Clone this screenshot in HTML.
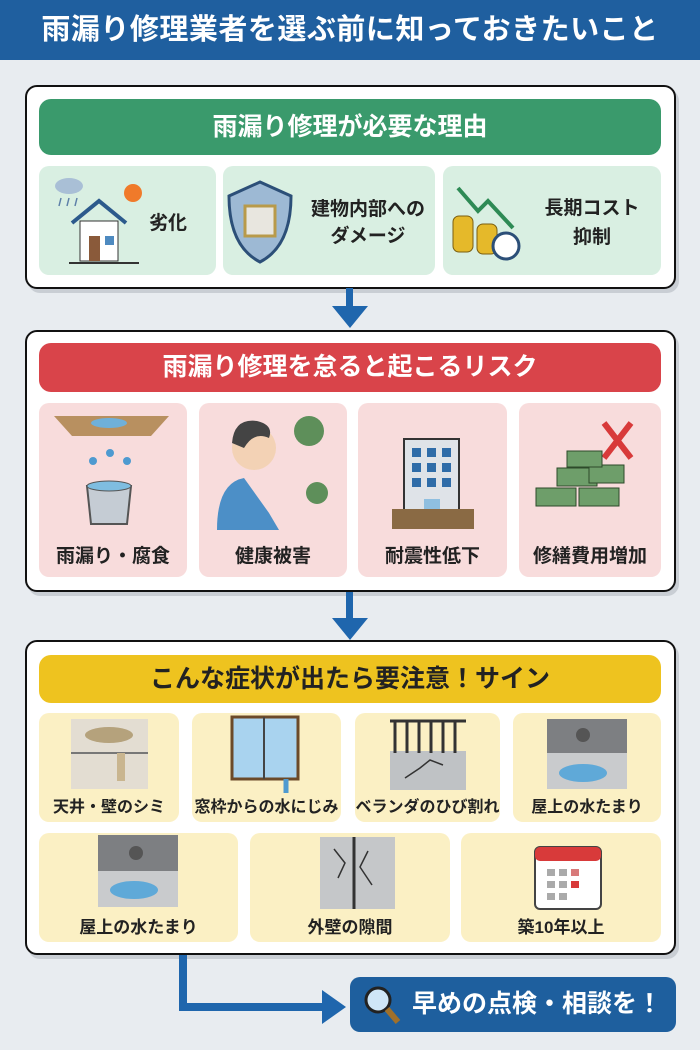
<!DOCTYPE html>
<html><head><meta charset="utf-8"><style>
*{margin:0;padding:0;box-sizing:border-box}
body{width:700px;height:1050px;background:#e8ecf0;position:relative;overflow:hidden;font-family:"Liberation Sans","Noto Sans CJK JP",sans-serif;font-weight:bold}
.a{position:absolute}
.hdr{left:0;top:0;width:700px;height:60px;background:#1f5f9f;color:#fff;font-size:29px;text-align:center;line-height:60px;letter-spacing:0.5px}
.box{background:#fff;border:2.5px solid #111;border-radius:12px;box-shadow:3px 4px 0 #c9ced4}
.bar{border-radius:12px;text-align:center;font-size:25px}
.card{border-radius:10px}
.lbl{position:absolute;left:0;right:0;text-align:center;color:#222}
svg{position:absolute}
</style></head><body>
<div class="a hdr">雨漏り修理業者を選ぶ前に知っておきたいこと</div>

<!-- box1 -->
<div class="a box" style="left:25px;top:85px;width:651px;height:204px"></div>
<div class="a bar" style="left:39px;top:99px;width:622px;height:56px;background:#3a9a6c;color:#fff;line-height:56px">雨漏り修理が必要な理由</div>
<div class="a card" style="left:39px;top:166px;width:177px;height:109px;background:#d9efe2">
 <svg width="110" height="109" viewBox="0 0 110 109"><ellipse cx="30" cy="20" rx="14" ry="8" fill="#a9bfd6"/><g stroke="#5d7fa8" stroke-width="1.5"><line x1="22" y1="32" x2="20" y2="40"/><line x1="30" y1="32" x2="28" y2="40"/><line x1="38" y1="32" x2="36" y2="40"/></g><circle cx="94" cy="27" r="9" fill="#f07a2a"/><path d="M33 57L60 35L87 57" fill="none" stroke="#2c5a8c" stroke-width="4"/><rect x="41" y="55" width="38" height="40" fill="#fff" stroke="#333"/><rect x="50" y="70" width="11" height="25" fill="#8a5a3a"/><rect x="66" y="70" width="9" height="9" fill="#4e8ac0"/><line x1="30" y1="97" x2="100" y2="97" stroke="#333" stroke-width="2"/></svg>
 <div class="lbl" style="left:110px;right:auto;top:42px;font-size:19px">劣化</div></div>
<div class="a card" style="left:223px;top:166px;width:212px;height:109px;background:#d9efe2">
 <svg width="75" height="109" viewBox="0 0 75 109"><path d="M37 16L68 30Q68 80 37 96Q6 80 6 30Z" fill="#9db9d4" stroke="#2c4f78" stroke-width="3"/><rect x="22" y="40" width="30" height="30" fill="#e8e6df" stroke="#b89a4a" stroke-width="3"/></svg>
 <div class="lbl" style="left:78px;right:0;top:30px;font-size:19px;line-height:27px">建物内部への<br>ダメージ</div></div>
<div class="a card" style="left:443px;top:166px;width:218px;height:109px;background:#d9efe2">
 <svg width="85" height="109" viewBox="0 0 85 109"><path d="M15 22L35 45L45 35L70 62" fill="none" stroke="#2e8a55" stroke-width="4"/><g fill="#e5b92a" stroke="#7a5e10"><rect x="10" y="50" width="20" height="36" rx="6"/><rect x="34" y="58" width="20" height="30" rx="6"/></g><circle cx="63" cy="80" r="13" fill="#fff" stroke="#2c4f78" stroke-width="3"/></svg>
 <div class="lbl" style="left:80px;right:0;top:28px;font-size:19px;line-height:29px">長期コスト<br>抑制</div></div>

<!-- arrow1 -->
<div class="a" style="left:346px;top:288px;width:7px;height:22px;background:#1f66ad"></div>
<svg style="left:332px;top:306px" width="36" height="22"><polygon points="0,0 36,0 18,22" fill="#1f66ad"/></svg>

<!-- box2 -->
<div class="a box" style="left:25px;top:330px;width:651px;height:262px"></div>
<div class="a bar" style="left:39px;top:343px;width:622px;height:49px;background:#d9444a;color:#fff;line-height:49px">雨漏り修理を怠ると起こるリスク</div>
<div class="a card" style="left:39px;top:403px;width:148px;height:174px;background:#f8dcdc">
 <svg width="148" height="130" viewBox="0 0 148 130"><polygon points="15,13 130,13 112,33 33,33" fill="#b89060"/><ellipse cx="70" cy="20" rx="18" ry="5" fill="#6fb0da"/><g fill="#4e9ad0"><circle cx="54" cy="58" r="4"/><circle cx="71" cy="50" r="4"/><circle cx="88" cy="58" r="4"/></g><path d="M48 83L52 121H88L92 83Z" fill="#c5ccd4" stroke="#555" stroke-width="2"/><ellipse cx="70" cy="83" rx="22" ry="5" fill="#7fbde0" stroke="#555"/></svg>
 <div class="lbl" style="top:138px;font-size:19px">雨漏り・腐食</div></div>
<div class="a card" style="left:199px;top:403px;width:148px;height:174px;background:#f8dcdc">
 <svg width="148" height="130" viewBox="0 0 148 130"><circle cx="55" cy="45" r="22" fill="#f3d2b5"/><path d="M33 40Q35 15 58 18Q75 22 70 35Q55 28 45 45Z" fill="#444"/><path d="M18 127Q18 80 45 75L70 110L80 127Z" fill="#4c8fc7"/><circle cx="110" cy="28" r="15" fill="#5e8f5a"/><circle cx="118" cy="90" r="11" fill="#5e8f5a"/></svg>
 <div class="lbl" style="top:138px;font-size:19px">健康被害</div></div>
<div class="a card" style="left:358px;top:403px;width:149px;height:174px;background:#f8dcdc">
 <svg width="149" height="130" viewBox="0 0 149 130"><rect x="46" y="36" width="55" height="82" fill="#dfe3e8" stroke="#333" stroke-width="2"/><g fill="#2f6ca8"><rect x="54" y="45" width="9" height="9"/><rect x="69" y="45" width="9" height="9"/><rect x="84" y="45" width="9" height="9"/><rect x="54" y="60" width="9" height="9"/><rect x="69" y="60" width="9" height="9"/><rect x="84" y="60" width="9" height="9"/><rect x="54" y="75" width="9" height="9"/><rect x="69" y="75" width="9" height="9"/><rect x="84" y="75" width="9" height="9"/><rect x="66" y="96" width="16" height="22" fill="#8fbfe0"/></g><rect x="34" y="106" width="82" height="20" fill="#8a6a44"/></svg>
 <div class="lbl" style="top:138px;font-size:19px">耐震性低下</div></div>
<div class="a card" style="left:519px;top:403px;width:142px;height:174px;background:#f8dcdc">
 <svg width="142" height="130" viewBox="0 0 142 130"><path d="M85 20L112 55M112 20L85 55" stroke="#d83a3a" stroke-width="6"/><g fill="#6e9e6a" stroke="#2d4a2a"><rect x="17" y="85" width="40" height="18"/><rect x="60" y="85" width="40" height="18"/><rect x="38" y="65" width="40" height="18"/><rect x="70" y="62" width="35" height="18"/><rect x="48" y="48" width="35" height="16"/></g></svg>
 <div class="lbl" style="top:138px;font-size:19px">修繕費用増加</div></div>

<!-- arrow2 -->
<div class="a" style="left:346px;top:592px;width:7px;height:30px;background:#1f66ad"></div>
<svg style="left:332px;top:618px" width="36" height="22"><polygon points="0,0 36,0 18,22" fill="#1f66ad"/></svg>

<!-- box3 -->
<div class="a box" style="left:25px;top:640px;width:651px;height:315px"></div>
<div class="a bar" style="left:39px;top:655px;width:622px;height:48px;background:#eec31f;color:#222;line-height:48px">こんな症状が出たら要注意！サイン</div>

<div class="a card" style="left:39px;top:713px;width:140px;height:109px;background:#fbf0c4">
 <svg width="140" height="80"><rect x="32" y="6" width="77" height="70" fill="#e3ddd2"/><line x1="32" y1="40" x2="109" y2="40" stroke="#777" stroke-width="2"/><ellipse cx="70" cy="22" rx="24" ry="8" fill="#b5a27c"/><rect x="78" y="40" width="8" height="28" fill="#c9b58f"/></svg>
 <div class="lbl" style="top:80px;font-size:16px">天井・壁のシミ</div></div>
<div class="a card" style="left:192px;top:713px;width:149px;height:109px;background:#fbf0c4">
 <svg width="149" height="80"><rect x="40" y="4" width="66" height="62" fill="#a9d3ef" stroke="#6b4a2a" stroke-width="3"/><line x1="72" y1="4" x2="72" y2="66" stroke="#444" stroke-width="2"/><path d="M94 66v14" stroke="#4e9ad0" stroke-width="5"/></svg>
 <div class="lbl" style="top:80px;font-size:16px">窓枠からの水にじみ</div></div>
<div class="a card" style="left:355px;top:713px;width:145px;height:109px;background:#fbf0c4">
 <svg width="145" height="80"><rect x="35" y="38" width="76" height="39" fill="#bfc2c5"/><g stroke="#333" stroke-width="3"><line x1="35" y1="8" x2="111" y2="8"/><line x1="40" y1="8" x2="40" y2="40"/><line x1="52" y1="8" x2="52" y2="40"/><line x1="64" y1="8" x2="64" y2="40"/><line x1="76" y1="8" x2="76" y2="40"/><line x1="88" y1="8" x2="88" y2="40"/><line x1="100" y1="8" x2="100" y2="40"/></g><path d="M50 65L65 55L75 47L88 52" fill="none" stroke="#333" stroke-width="1.5"/></svg>
 <div class="lbl" style="top:80px;font-size:16px">ベランダのひび割れ</div></div>
<div class="a card" style="left:513px;top:713px;width:148px;height:109px;background:#fbf0c4">
 <svg width="148" height="80"><rect x="34" y="6" width="80" height="70" fill="#7d7f82"/><rect x="34" y="40" width="80" height="36" fill="#c9cbcd"/><circle cx="70" cy="22" r="7" fill="#555"/><ellipse cx="70" cy="60" rx="24" ry="9" fill="#5fa9d8"/></svg>
 <div class="lbl" style="top:80px;font-size:16px">屋上の水たまり</div></div>

<div class="a card" style="left:39px;top:833px;width:199px;height:109px;background:#fbf0c4">
 <svg width="199" height="80"><rect x="59" y="2" width="80" height="72" fill="#7d7f82"/><rect x="59" y="38" width="80" height="36" fill="#c9cbcd"/><circle cx="97" cy="20" r="7" fill="#555"/><ellipse cx="95" cy="57" rx="24" ry="9" fill="#5fa9d8"/></svg>
 <div class="lbl" style="top:80px;font-size:17px">屋上の水たまり</div></div>
<div class="a card" style="left:250px;top:833px;width:200px;height:109px;background:#fbf0c4">
 <svg width="200" height="80"><rect x="70" y="4" width="75" height="72" fill="#c5c7c9"/><line x1="104" y1="4" x2="104" y2="76" stroke="#333" stroke-width="3"/><path d="M84 16L95 30L88 45M118 18L110 34L122 52" fill="none" stroke="#333" stroke-width="1.5"/></svg>
 <div class="lbl" style="top:80px;font-size:17px">外壁の隙間</div></div>
<div class="a card" style="left:461px;top:833px;width:200px;height:109px;background:#fbf0c4">
 <svg width="200" height="80"><rect x="74" y="14" width="66" height="62" rx="5" fill="#fff" stroke="#444" stroke-width="2"/><rect x="74" y="14" width="66" height="14" rx="5" fill="#d83a3a"/><g fill="#aaa"><rect x="86" y="36" width="8" height="7"/><rect x="98" y="36" width="8" height="7"/><rect x="110" y="36" width="8" height="7" fill="#d87a7a"/><rect x="86" y="48" width="8" height="7"/><rect x="98" y="48" width="8" height="7"/><rect x="110" y="48" width="8" height="7" fill="#d83a3a"/><rect x="86" y="60" width="8" height="7"/><rect x="98" y="60" width="8" height="7"/></g></svg>
 <div class="lbl" style="top:80px;font-size:17px">築10年以上</div></div>

<!-- bottom connector -->
<div class="a" style="left:179px;top:955px;width:8px;height:56px;background:#1f66ad"></div>
<div class="a" style="left:179px;top:1003px;width:150px;height:8px;background:#1f66ad"></div>
<svg style="left:322px;top:990px" width="24" height="34"><polygon points="0,0 24,17 0,34" fill="#1f66ad"/></svg>
<div class="a" style="left:350px;top:977px;width:326px;height:55px;background:#1e5f9e;border-radius:10px;color:#fff;font-size:25px;line-height:55px;padding-left:62px">早めの点検・相談を！</div>
<svg style="left:362px;top:984px" width="40" height="42"><circle cx="16" cy="16" r="12" fill="#cfe6f7" stroke="#222" stroke-width="3"/><line x1="25" y1="25" x2="36" y2="38" stroke="#a0702a" stroke-width="6"/></svg>
</body></html>
